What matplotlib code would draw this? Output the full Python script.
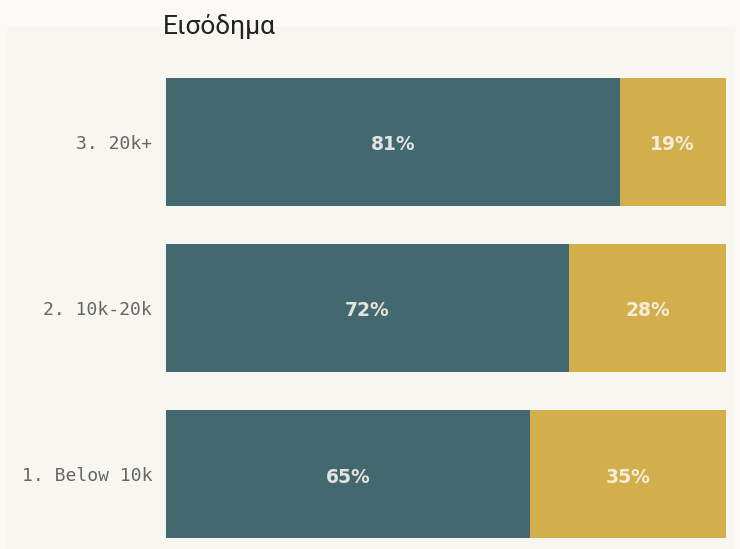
import matplotlib
matplotlib.use('Agg')
import matplotlib.pyplot as plt

# ##############################################################################
# data
categories = ['1. Below 10k', '2. 10k-20k', '3. 20k+']
share_a = [65, 72, 81]   # teal
share_b = [35, 28, 19]   # gold

title = 'Εισόδημα'

col_a = '#436870'
col_b = '#d3af4b'
panel_col = '#f7f6f1'
# ##############################################################################

fig = plt.figure(figsize=(7.4, 5.49), dpi=100)
fig.patch.set_facecolor('#fbfaf7')

# beige panel behind the chart
bg = fig.add_axes([7/740, 0, (735-7)/740, 1-27/549], zorder=-1)
bg.set_facecolor(panel_col)
bg.set_xticks([])
bg.set_yticks([])
for sp in bg.spines.values():
    sp.set_visible(False)

ax = fig.add_axes([166/740, 11/549, 560/740, 460/549], zorder=1)
ax.set_facecolor('none')

ypos = list(range(len(categories)))
ax.barh(ypos, share_a, height=0.77, color=col_a, linewidth=0)
ax.barh(ypos, share_b, left=share_a, height=0.77, color=col_b, linewidth=0)

# value labels, slightly below bar centre like the original
for y, a, b in zip(ypos, share_a, share_b):
    ax.text(a/2, y - 0.018, f'{a}%', ha='center', va='center',
            color='#e4e4de', fontsize=13.5, fontweight='semibold',
            family='DejaVu Sans')
    ax.text(a + b/2, y - 0.018, f'{b}%', ha='center', va='center',
            color='#f3ecd8', fontsize=13.5, fontweight='semibold',
            family='DejaVu Sans')

ax.set_xlim(0, 100)
ax.set_ylim(-0.385, 2.385)
ax.set_yticks(ypos)
ax.set_yticklabels(categories, family='DejaVu Sans Mono', fontsize=13,
                   color='#666666')
ax.tick_params(axis='y', length=0, pad=10)
ax.set_xticks([])
for sp in ax.spines.values():
    sp.set_visible(False)

fig.text(163/740, 1-34/549, title, family='Roboto', fontsize=19,
         color='#222222', va='baseline', ha='left')

plt.savefig('out.png', dpi=100, facecolor=fig.get_facecolor())
